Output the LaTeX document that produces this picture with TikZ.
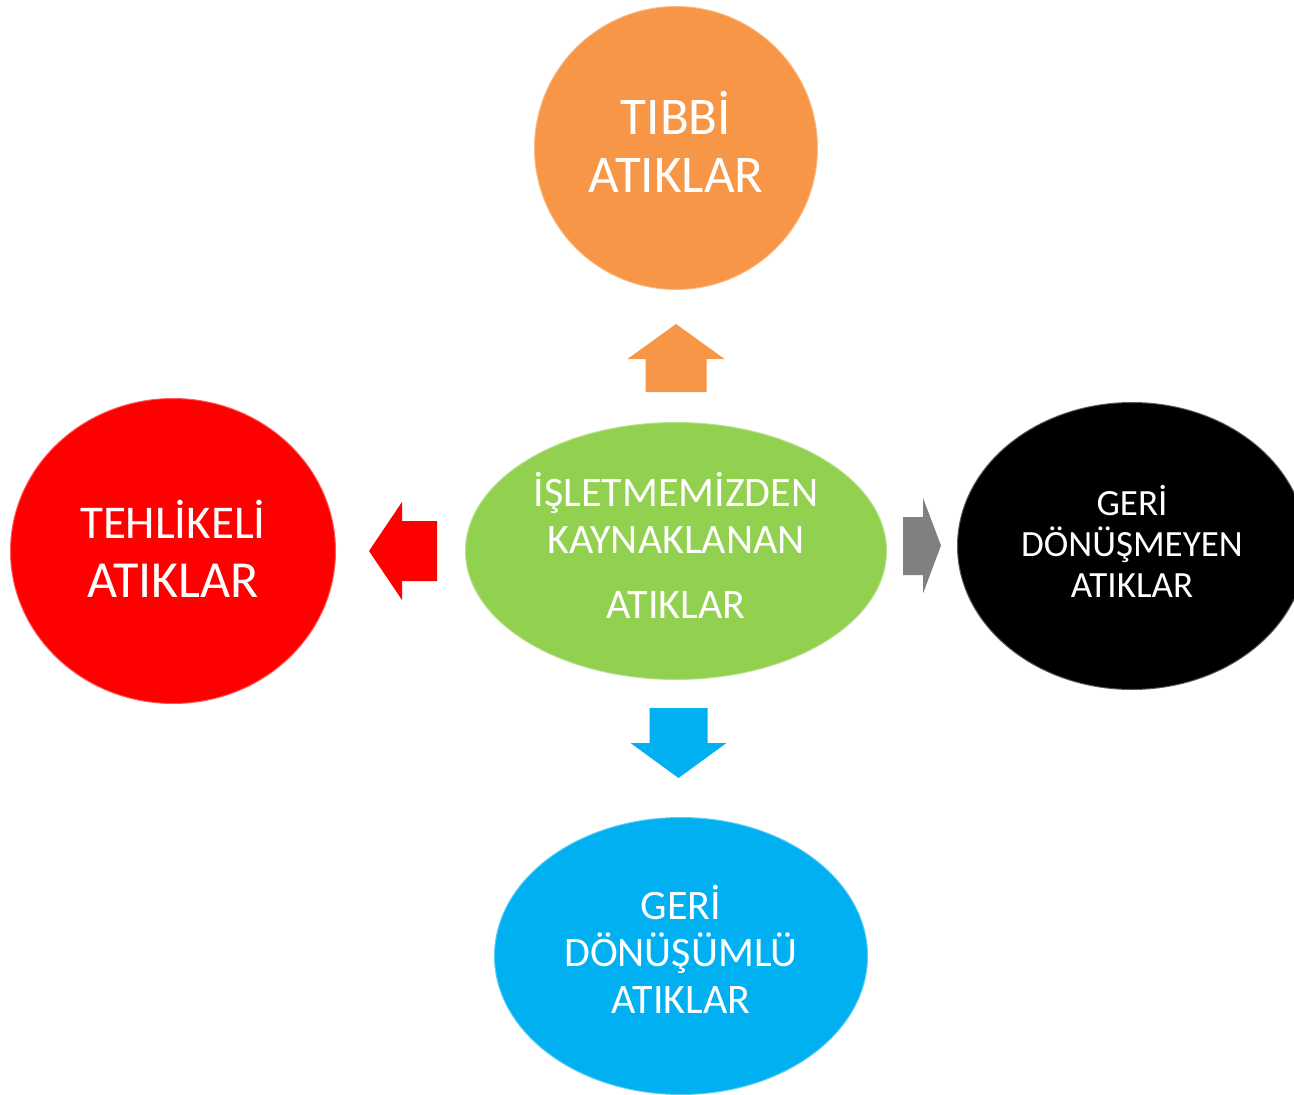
\documentclass[tikz,border=0pt]{standalone}
\usepackage{fontspec}
\setmainfont{Carlito}
\usetikzlibrary{positioning,shapes.geometric,calc}

\definecolor{tibbi}{HTML}{F79646}
\definecolor{kaynak}{HTML}{92D050}
\definecolor{tehlike}{HTML}{FF0000}
\definecolor{geri}{HTML}{00B0F0}
\definecolor{okgri}{HTML}{808080}

\tikzset{
	balon/.style={ellipse, inner sep=0pt, text=white, align=center,
		draw=white, draw opacity=.35, line width=2pt},
	blokok/.style={line join=miter}
}

\begin{document}
\begin{tikzpicture}[x=1pt,y=1pt]
	\useasboundingbox (0,0) rectangle (1294,-1095);
	\node [balon, fill=kaynak, minimum width=422pt, minimum height=258pt,
		font=\fontsize{42}{47}\selectfont, text depth=12pt] (mid) at (676,-551)
		{İŞLETMEMİZDEN\\KAYNAKLANAN\\[18pt]ATIKLAR};
	\node [balon, fill=tibbi, minimum width=284pt, minimum height=284pt,
		font=\fontsize{53}{58}\selectfont, text depth=13pt, above=130pt of mid] (tibbi)
		{TIBBİ\\ATIKLAR};
	\node [balon, fill=tehlike, minimum width=326pt, minimum height=306pt,
		font=\fontsize{52}{59}\selectfont, text depth=5pt, left=127pt of mid] (tehlike)
		{\fontsize{47}{59}\selectfont TEHLİKELİ\\ATIKLAR};
	\node [balon, fill=black, minimum width=350pt, minimum height=288pt,
		font=\fontsize{37}{41}\selectfont, text depth=10pt, right=68pt of mid, yshift=5pt] (donusmez)
		{GERİ\\DÖNÜŞMEYEN\\ATIKLAR};
	\node [balon, fill=geri, minimum width=374pt, minimum height=278pt,
		font=\fontsize{42}{47}\selectfont, text depth=14pt, below=135pt of mid, xshift=5pt] (geri)
		{GERİ\\DÖNÜŞÜMLÜ\\ATIKLAR};
	% block arrows between the shapes
	\coordinate (okU) at ($(mid.north)!0.5!(tibbi.south)$);
	\coordinate (okL) at ($(mid.west)!0.5!(tehlike.east)$);
	\coordinate (okR) at ($(mid.east)!0.5!(donusmez.west)$);
	\coordinate (okD) at ($(mid.south)!0.5!(geri.north)$);
	\fill [blokok, tibbi] (okU) ++(0,32) -- ++(48.5,-35) -- ++(-18,0) -- ++(0,-33)
		-- ++(-61,0) -- ++(0,33) -- ++(-18,0) -- cycle;
	\fill [blokok, tehlike] (okL) ++(-31.5,0) -- ++(33,49) -- ++(0,-19) -- ++(35,0)
		-- ++(0,-60) -- ++(-35,0) -- ++(0,-19) -- cycle;
	\fill [blokok, okgri] (okR) ++(19,3) -- ++(-18,47.5) -- ++(0,-19) -- ++(-20,0)
		-- ++(0,-58) -- ++(20,0) -- ++(0,-18.5) -- cycle;
	\fill [blokok, geri] (okD) ++(0,-29.5) -- ++(48,35) -- ++(-19,0) -- ++(0,35)
		-- ++(-58,0) -- ++(0,-35) -- ++(-19,0) -- cycle;
\end{tikzpicture}
\end{document}
